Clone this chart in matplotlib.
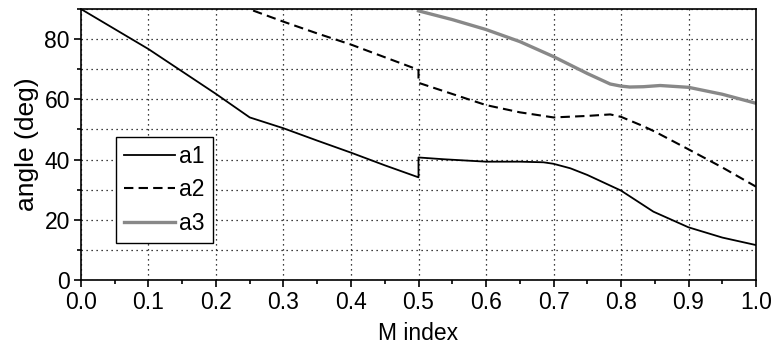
import matplotlib.pyplot as plt
import numpy as np

plt.rcParams['font.family'] = ['Liberation Sans', 'DejaVu Sans']

# a1: solid black, jump at M = 0.5
a1_x = [0.0, 0.1, 0.2, 0.25, 0.3, 0.35, 0.4, 0.45, 0.5, 0.5, 0.538, 0.6, 0.65, 0.685,
        0.7, 0.725, 0.75, 0.8, 0.848, 0.9, 0.95, 1.0]
a1_y = [90.0, 76.7, 61.8, 54.0, 50.4, 46.3, 42.3, 38.1, 34.1, 40.7, 40.1, 39.3, 39.3, 39.1,
        38.6, 37.1, 34.9, 29.7, 22.7, 17.5, 14.1, 11.6]

# a2: dashed black
a2_x = [0.255, 0.3, 0.35, 0.4, 0.45, 0.5, 0.5, 0.6, 0.65, 0.7, 0.75, 0.784, 0.8,
        0.833, 0.85, 0.9, 0.95, 1.0]
a2_y = [89.5, 85.8, 81.9, 78.2, 74.0, 69.8, 65.5, 58.1, 55.7, 54.0, 54.5, 55.0, 54.2,
        51.1, 49.3, 43.4, 37.4, 31.0]

# a3: gray
a3_x = [0.5, 0.55, 0.6, 0.65, 0.7, 0.75, 0.784, 0.8, 0.813, 0.833, 0.858, 0.9, 0.95, 1.0]
a3_y = [89.4, 86.5, 83.2, 79.2, 74.2, 68.6, 65.1, 64.4, 64.1, 64.2, 64.6, 64.0, 61.7, 58.7]

fig = plt.figure(figsize=(7.75, 3.48), dpi=100)
ax = fig.add_axes([0.1045, 0.1954, 0.871, 0.7786])

ax.plot(a1_x, a1_y, color='black', lw=1.3, label='a1')
ax.plot(a2_x, a2_y, color='black', lw=1.5, ls=(0, (4.5, 2.5)), label='a2')
ax.plot(a3_x, a3_y, color='#888888', lw=2.4, label='a3')

ax.set_xlim(0, 1.0)
ax.set_ylim(0, 90)
ax.set_xticks(np.arange(0, 1.01, 0.1))
ax.set_xticks(np.arange(0.05, 1.0, 0.1), minor=True)
ax.set_yticks([0, 20, 40, 60, 80])
ax.set_yticks([10, 30, 50, 70, 90], minor=True)
ax.set_xticklabels(['%.1f' % v for v in np.arange(0, 1.01, 0.1)])

ax.grid(True, which='major', axis='x', color='black', ls=(0, (1, 3)), lw=0.9)
ax.grid(True, which='both', axis='y', color='black', ls=(0, (1, 3)), lw=0.9)
ax.set_axisbelow(True)

ax.tick_params(which='major', direction='out', length=5, width=1.2, labelsize=16.5,
               top=False, right=False, pad=3)
ax.tick_params(which='minor', direction='out', length=3, width=1.2, top=False, right=False)
for s in ax.spines.values():
    s.set_linewidth(1.2)

ax.set_xlabel('M index', fontsize=16.5, labelpad=6)
ax.set_ylabel('angle (deg)', fontsize=19, labelpad=4)

leg = ax.legend(loc='upper left', bbox_to_anchor=(0.052, 0.528), borderaxespad=0,
                fontsize=16.5, frameon=True, fancybox=False, handlelength=2.2,
                handletextpad=0.2, labelspacing=0.45, borderpad=0.35)
leg.get_frame().set_edgecolor('black')
leg.get_frame().set_linewidth(1.0)
leg.get_frame().set_alpha(1)

fig.savefig('out.png', dpi=100)
